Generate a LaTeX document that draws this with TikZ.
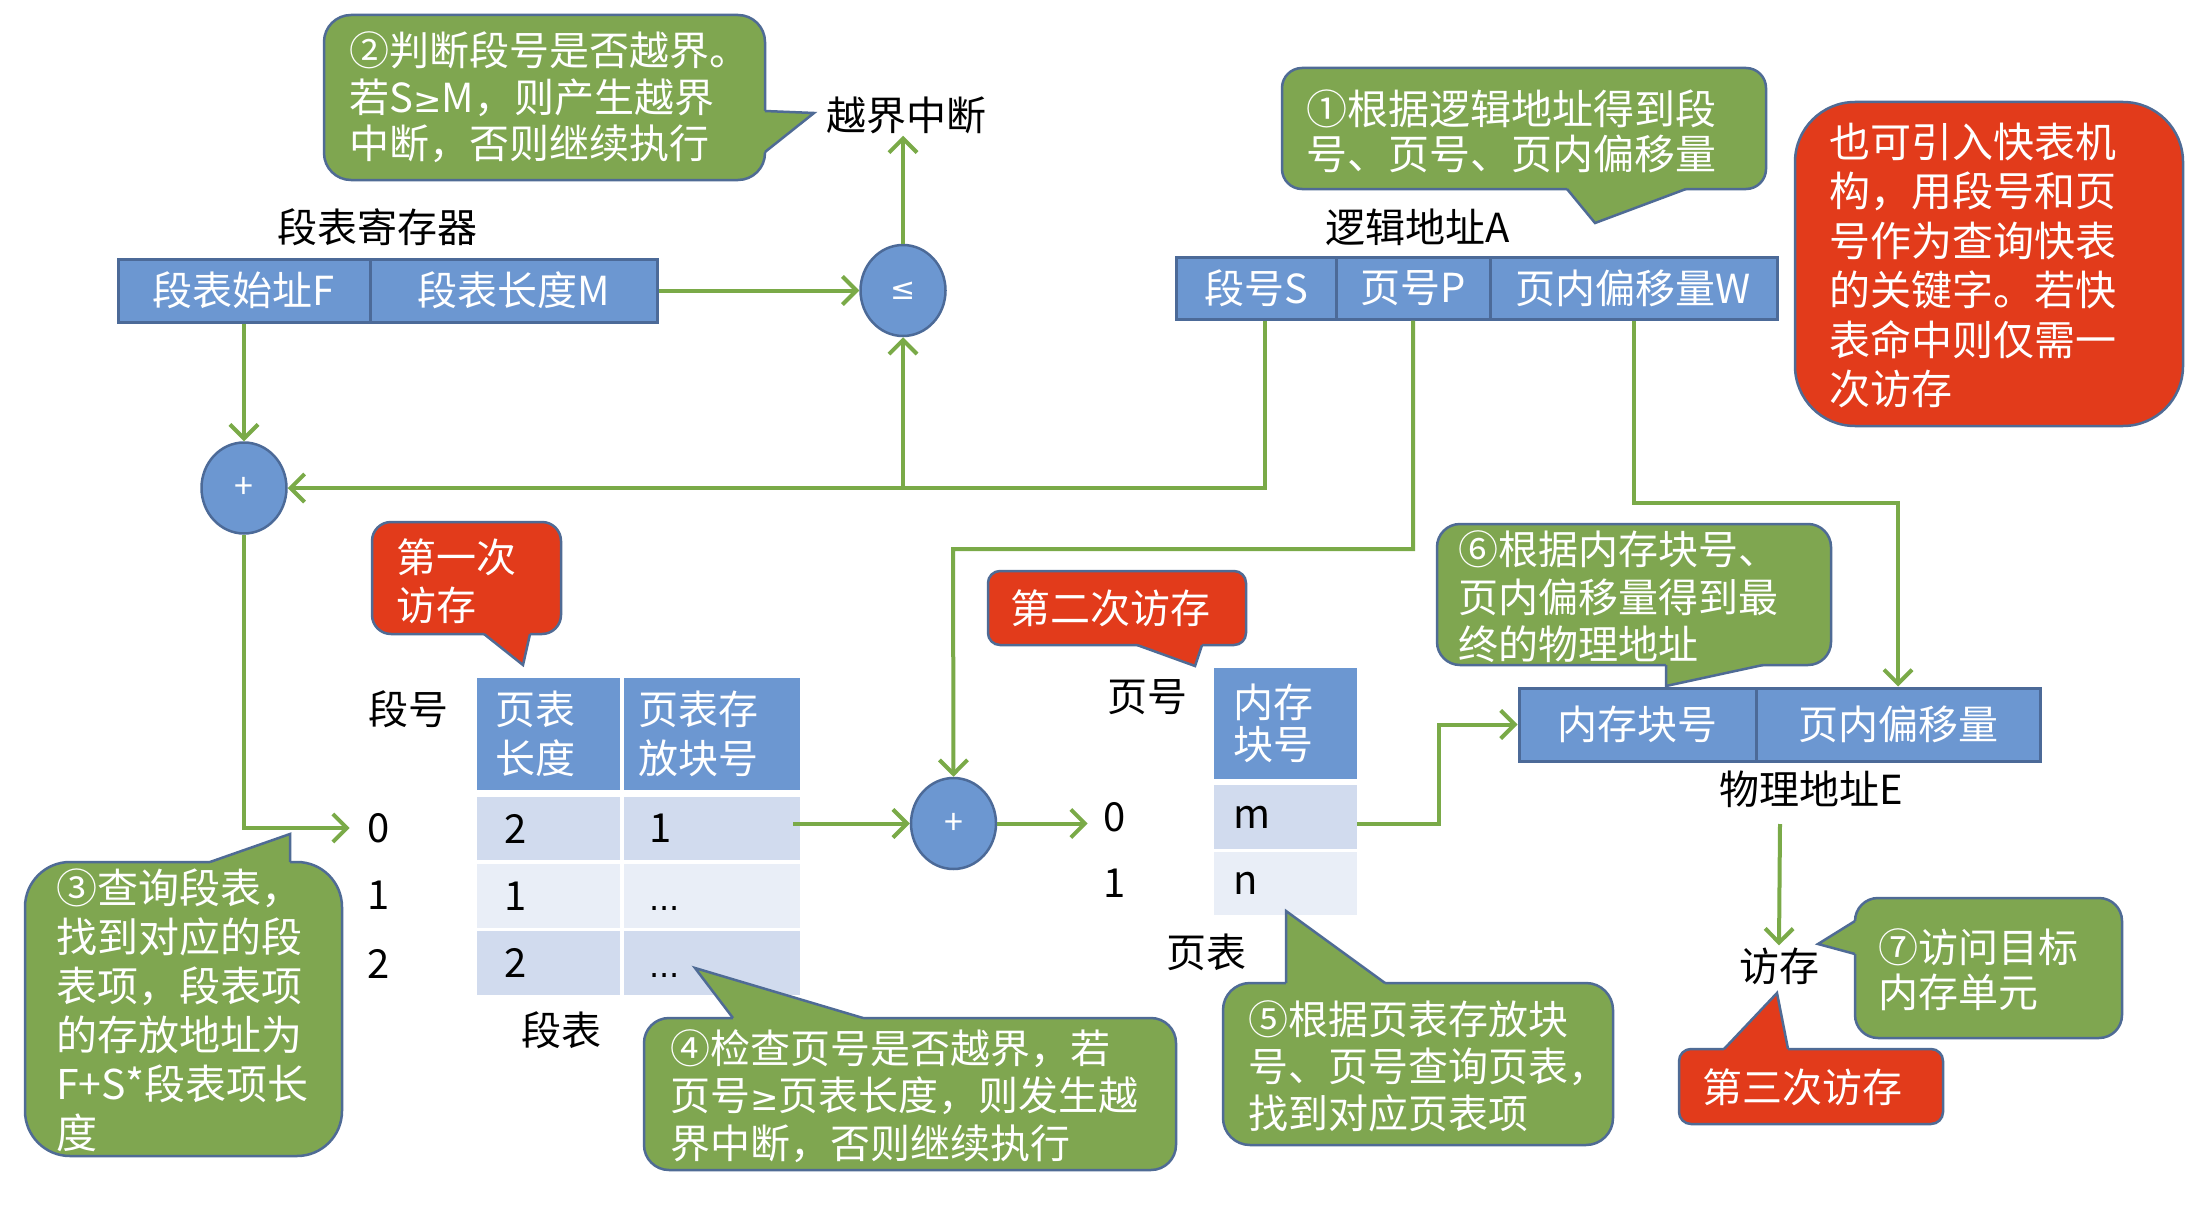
\documentclass[tikz,border=0pt]{standalone}
\usepackage{fontspec}
\setmainfont{Noto Sans CJK SC}
\newfontfamily\symfnt{DejaVu Sans}
\usetikzlibrary{arrows.meta,shapes.geometric}
\definecolor{cgreen}{HTML}{7FA650}
\definecolor{cline}{HTML}{7AAA48}
\definecolor{cred}{HTML}{E23B1B}
\definecolor{cblue}{HTML}{6C97D1}
\definecolor{cblueedge}{HTML}{4C6A98}
\definecolor{cedge}{HTML}{4F6B95}
\definecolor{crowA}{HTML}{D1DBEE}
\definecolor{crowB}{HTML}{E9EEF7}
\newcommand\mybox[6]{\filldraw[fill=#1,draw=cedge,line width=2.5pt,rounded corners=#6] (#2,#3) rectangle (#4,#5);}
\begin{document}
\begin{tikzpicture}[x=1pt,y=-1pt,
  lbl/.style={inner sep=2pt,text=black,font=\fontsize{40}{48}\selectfont},
  txt/.style={anchor=west,align=left,inner sep=0pt,text=white},
  blk/.style={draw=cblueedge,line width=3pt,fill=cblue,text=white,font=\fontsize{40}{48}\selectfont,inner sep=0pt},
  opnode/.style={ellipse,draw=cblueedge,line width=2.5pt,fill=cblue,text=white,minimum width=85pt,minimum height=91pt,inner sep=0pt,font=\fontsize{34}{40}\selectfont},
  conn/.style={draw=cline,line width=4pt,-{Straight Barb[length=14pt,width=28pt]}},
  hdr/.style={fill=cblue,text=white,align=left,inner ysep=0pt},
  cellA/.style={fill=crowA,text=black,align=left,inner ysep=0pt,font=\fontsize{40}{48}\selectfont},
  cellB/.style={fill=crowB,text=black,align=left,inner ysep=0pt,font=\fontsize{40}{48}\selectfont},
  edge/.style={draw=cedge,line width=2.5pt,line join=miter}
]
\fill[white] (0,0) rectangle (2197,1220);
\useasboundingbox (0,0) rectangle (2197,1220);

% ---------- blue boxes ----------
\node[blk,minimum width=252pt,minimum height=63pt] (regF) at (244,290.5) {段表始址F};
\node[blk,minimum width=287pt,minimum height=63pt] (regM) at (513.5,290.5) {段表长度M};
\node[blk,minimum width=160pt,minimum height=62pt] (segS) at (1256,288) {段号S};
\node[blk,minimum width=154pt,minimum height=62pt] (segP) at (1413,288) {页号P};
\node[blk,minimum width=287pt,minimum height=62pt] (segW) at (1633.5,288) {页内偏移量W};
\node[blk,minimum width=237pt,minimum height=73pt] (physB) at (1637.5,724.5) {内存块号};
\node[blk,minimum width=284pt,minimum height=73pt] (physO) at (1898,724.5) {页内偏移量};

% ---------- operators ----------
\node[opnode] (cmp) at (903,290.5) {\symfnt\fontsize{30}{36}\selectfont ≤};
\node[opnode] (add1) at (244,488) {+};
\node[opnode] (add2) at (953.5,823.5) {+};

% ---------- labels ----------
\node[lbl] (ljd) at (906,115) {越界中断};
\node[lbl] (lreg) at (377,227) {段表寄存器};
\node[lbl] (llog) at (1418,227) {逻辑地址A};
\node[lbl] (lsn) at (408,709) {段号};
\node[lbl] (s0) at (379,828) {0};
\node[lbl] (s1) at (379,895) {1};
\node[lbl] (s2) at (379,964) {2};
\node[lbl] (lst) at (561,1030) {段表};
\node[lbl] (lpn) at (1147,697) {页号};
\node[lbl] (p0) at (1115,817) {0};
\node[lbl] (p1) at (1115,883) {1};
\node[lbl] (lpt) at (1206,952) {页表};
\node[lbl] (lphys) at (1811,789) {物理地址E};
\node[lbl] (visit) at (1779,966) {访存};

% ---------- segment table ----------
\node[hdr,minimum width=143pt,minimum height=112pt,text width=107pt,inner xsep=18pt,font=\fontsize{40}{49}\selectfont] (sh1) at (548.5,734) {页表\\长度};
\node[hdr,minimum width=176pt,minimum height=112pt,text width=148pt,inner xsep=14pt,font=\fontsize{40}{49}\selectfont] (sh2) at (712,734) {页表存\\放块号};
\node[cellA,minimum width=143pt,minimum height=63pt,text width=89pt,inner xsep=27pt] (sr0a) at (548.5,828.5) {2};
\node[cellA,minimum width=176pt,minimum height=63pt,text width=126pt,inner xsep=25pt] (sr0b) at (712,828.5) {1};
\node[cellB,minimum width=143pt,minimum height=64pt,text width=89pt,inner xsep=27pt] (sr1a) at (548.5,896) {1};
\node[cellB,minimum width=176pt,minimum height=64pt,text width=126pt,inner xsep=25pt] (sr1b) at (712,896) {\vphantom{1}\symfnt\fontsize{32}{40}\selectfont ...};
\node[cellA,minimum width=143pt,minimum height=64pt,text width=89pt,inner xsep=27pt] (sr2a) at (548.5,963) {2};
\node[cellA,minimum width=176pt,minimum height=64pt,text width=126pt,inner xsep=25pt] (sr2b) at (712,963) {\vphantom{1}\symfnt\fontsize{32}{40}\selectfont ...};

% ---------- page table ----------
\node[hdr,minimum width=143pt,minimum height=111pt,text width=105pt,inner xsep=19pt,font=\fontsize{40}{42}\selectfont] (ph) at (1285.5,723.5) {内存\\块号};
\node[cellA,minimum width=143pt,minimum height=64pt,text width=105pt,inner xsep=19pt] (ptm) at (1285.5,817) {m};
\node[cellB,minimum width=143pt,minimum height=63pt,text width=105pt,inner xsep=19pt] (ptn) at (1285.5,883.5) {n};

% ---------- connectors ----------
\coordinate (s0in) at ([xshift=-16pt]s0.west);
\coordinate (r0out) at ([xshift=-7pt]sr0b.east);
\coordinate (p0in) at ([xshift=-14pt]p0.west);
\coordinate (pturn) at (953,549);
\coordinate (wturn) at (1898,503);
\coordinate (pstart) at (1780,824);
\draw[conn] (regF.south) -- (add1.north);
\draw[conn] (regM.east) -- (cmp.west);
\draw[conn] (cmp.north) -- (cmp.north |- ljd.south);
\draw[conn] ([xshift=9pt]segS.south) |- (add1.east);
\draw[conn] (cmp.south |- add1.east) -- (cmp.south);
\draw[conn] (segP.south) |- (pturn) -- (add2.north);
\draw[conn] (segW.south) |- (wturn) -- (physO.north);
\draw[conn] (add1.south) |- (s0in);
\draw[conn] (r0out |- add2.west) -- (add2.west);
\draw[conn] (add2.east) -- (p0in |- add2.east);
\draw[conn] ([yshift=-7pt]ptm.east) -- ++(82,0) |- (physB.west);
\draw[conn] (pstart) -- (visit.north);

% ---------- callouts ----------
% (2)
\mybox{cgreen}{324}{15}{765}{180}{27pt}
\fill[cgreen] (761,111) -- (765,111) -- (814,113) -- (765,152) -- (761,152) -- cycle;
\draw[edge] (765,111) -- (814,113) -- (765,152);
% (1)
\mybox{cgreen}{1282}{68}{1766}{189}{20pt}
\fill[cgreen] (1567,185) -- (1567,189) -- (1595,223) -- (1686,189) -- (1686,185) -- cycle;
\draw[edge] (1567,189) -- (1595,223) -- (1686,189);
% red big
\mybox{cred}{1795}{102}{2183}{426}{60pt}
% first access
\mybox{cred}{372}{522}{561}{634}{19pt}
\fill[cred] (484,630) -- (484,634) -- (523,665) -- (530,634) -- (530,630) -- cycle;
\draw[edge] (484,634) -- (523,665) -- (530,634);
% second access
\mybox{cred}{988}{571}{1246}{645}{12pt}
\fill[cred] (1137,641) -- (1137,645) -- (1195,666) -- (1202,645) -- (1202,641) -- cycle;
\draw[edge] (1137,645) -- (1195,666) -- (1202,645);
% (3)
\mybox{cgreen}{25}{862}{342}{1156}{45pt}
\fill[cgreen] (210,866) -- (210,862) -- (290,834) -- (290,862) -- (290,866) -- cycle;
\draw[edge] (210,862) -- (290,834) -- (290,862);
% (4)
\mybox{cgreen}{644}{1018}{1176}{1170}{25pt}
\fill[cgreen] (733,1022) -- (733,1018) -- (695,968) -- (863,1018) -- (863,1022) -- cycle;
\draw[edge] (733,1018) -- (695,968) -- (863,1018);
% (5)
\mybox{cgreen}{1223}{983}{1613}{1145}{27pt}
\fill[cgreen] (1286,987) -- (1286,983) -- (1286,911) -- (1385,983) -- (1385,987) -- cycle;
\draw[edge] (1286,983) -- (1286,911) -- (1385,983);
% (6)
\mybox{cgreen}{1437}{524}{1831}{665}{23pt}
\fill[cgreen] (1666,661) -- (1666,665) -- (1666,686) -- (1763,665) -- (1763,661) -- cycle;
\draw[edge] (1666,665) -- (1666,686) -- (1763,665);
% (7)
\mybox{cgreen}{1855}{898}{2122}{1038}{23pt}
\fill[cgreen] (1859,921) -- (1855,921) -- (1818,944) -- (1855,954) -- (1859,954) -- cycle;
\draw[edge] (1855,921) -- (1818,944) -- (1855,954);
% third access
\mybox{cred}{1679}{1049}{1943}{1124}{12pt}
\fill[cred] (1724,1053) -- (1724,1049) -- (1777,993) -- (1788,1049) -- (1788,1053) -- cycle;
\draw[edge] (1724,1049) -- (1777,993) -- (1788,1049);

% ---------- callout texts ----------
\node[txt,font=\fontsize{40}{46.5}\selectfont] (t2) at (349,97.5) {②判断段号是否越界。\\若S{\symfnt\fontsize{34}{40}\selectfont ≥}M，则产生越界\\中断，否则继续执行};
\node[txt,font=\fontsize{41}{45}\selectfont] (t1) at (1306,131.5) {①根据逻辑地址得到段\\号、页号、页内偏移量};
\node[txt,font=\fontsize{41}{49.4}\selectfont] (tq) at (1829,265.5) {也可引入快表机\\构，用段号和页\\号作为查询快表\\的关键字。若快\\表命中则仅需一\\次访存};
\node[txt,font=\fontsize{40}{48}\selectfont] (ta1) at (396,581) {第一次\\访存};
\node[txt,font=\fontsize{40}{48}\selectfont] (ta2) at (1010,608) {第二次访存};
\node[txt,font=\fontsize{41}{49}\selectfont] (t3) at (56,1010.5) {③查询段表，\\找到对应的段\\表项，段表项\\的存放地址为\\F+S*段表项长\\度};
\node[txt,font=\fontsize{40}{47.5}\selectfont] (t4) at (670,1096) {④检查页号是否越界，若\\页号{\symfnt\fontsize{34}{40}\selectfont ≥}页表长度，则发生越\\界中断，否则继续执行};
\node[txt,font=\fontsize{40}{47}\selectfont] (t5) at (1248,1066) {⑤根据页表存放块\\号、页号查询页表，\\找到对应页表项};
\node[txt,font=\fontsize{40}{47.5}\selectfont] (t6) at (1458,597) {⑥根据内存块号、\\页内偏移量得到最\\终的物理地址};
\node[txt,font=\fontsize{40}{45}\selectfont] (t7) at (1878,970) {⑦访问目标\\内存单元};
\node[txt,font=\fontsize{40}{48}\selectfont] (ta3) at (1702,1087) {第三次访存};
\end{tikzpicture}
\end{document}
